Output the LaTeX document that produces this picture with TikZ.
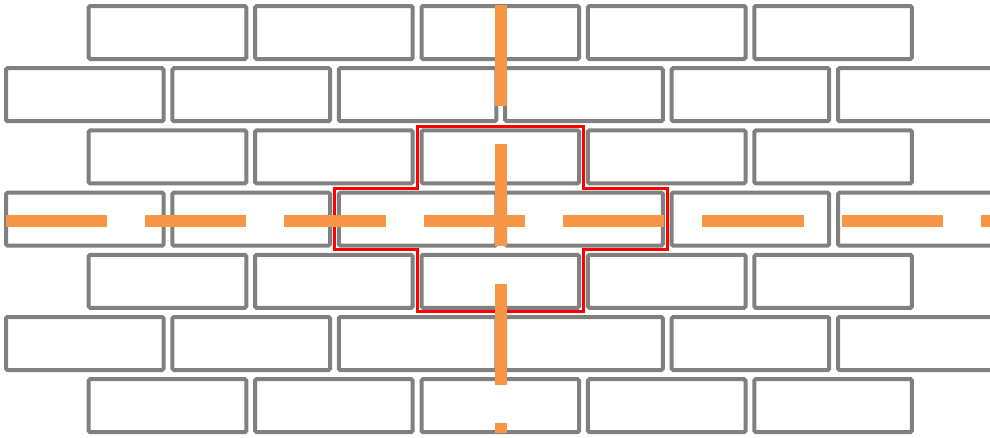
\documentclass[tikz,border=0pt]{standalone}
\definecolor{brickgray}{RGB}{128,128,128}
\definecolor{crossred}{RGB}{255,0,0}
\definecolor{axisorange}{RGB}{247,150,70}
\tikzset{
  brick/.style={draw=brickgray, line width=4pt, rounded corners=1.5pt, fill=white},
  crossline/.style={draw=crossred, line width=3.3pt},
  axisline/.style={draw=axisorange, line width=12.5pt, line cap=butt, dash pattern=on 101.3pt off 38pt}
}
\begin{document}
\begin{tikzpicture}[x=1pt,y=-1pt]
\useasboundingbox (0,0) rectangle (990,437);
\clip (0,0) rectangle (990,437);
\fill[white] (0,0) rectangle (990,437);
% rows 1,3,5,7
\foreach \r in {0,2,4,6}{
  \foreach \k in {0,...,4}{
    \draw[brick] ({86.7+166.4*\k+2},{4+62.2*\r+2}) rectangle ++(157.6,53);
  }
}
% rows 2,4,6
\foreach \r in {1,3,5}{
  \foreach \k in {0,...,5}{
    \draw[brick] ({4+166.4*\k+2},{4+62.2*\r+2}) rectangle ++(157.6,53);
  }
}
% red cross outline
\draw[crossline] (417.3,126.4) -- (583.3,126.4) -- (583.3,188.6) -- (667.5,188.6)
  -- (667.5,249.8) -- (583.3,249.8) -- (583.3,311.8) -- (417.3,311.8)
  -- (417.3,249.8) -- (334.8,249.8) -- (334.8,188.6) -- (417.3,188.6) -- cycle;
% orange dashed axes
\coordinate (hl) at (5.7,221);
\coordinate (hr) at (990,221);
\coordinate (vt) at (500.8,5);
\coordinate (vb) at (500.8,433);
\draw[axisline] (hl) -- (hr);
\draw[axisline] (vt) -- (vb);
\end{tikzpicture}
\end{document}
